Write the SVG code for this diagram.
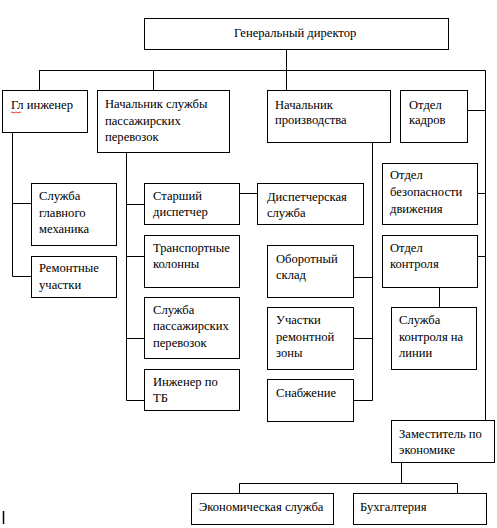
<svg xmlns="http://www.w3.org/2000/svg" width="497" height="528" viewBox="0 0 497 528">
<style>
.b{fill:#fff;stroke:#000;stroke-width:1}
.t{font-family:"Liberation Serif","Times New Roman",serif;font-size:12.6px;fill:#000}
.c{fill:none;stroke:#000;stroke-width:1}
</style>
<rect width="497" height="528" fill="#fff"/>
<g id="connectors">
<path class="c" d="M286.5,49 V90 M39.5,70.5 H485.5 V420 M39.5,70 V90 M153.5,70 V90"/>
<path class="c" d="M467,110.5 H485.5 M477,193.5 H485.5 M477,256.5 H485.5"/>
<path class="c" d="M12.5,132 V276.5 H31 M12.5,203.5 H31"/>
<path class="c" d="M126.5,152 V400.5 H144 M126.5,204.5 H144 M126.5,256.5 H144 M126.5,338.5 H144"/>
<path class="c" d="M239,193.5 H257"/>
<path class="c" d="M372.5,142 V400.5 H353 M372.5,277.5 H353 M372.5,338.5 H353"/>
<path class="c" d="M439.5,287 V307"/>
<path class="c" d="M401.5,462 V483.5 M239.5,493 V483.5 H457.5 V493"/>
</g>
<g id="n-gendir"><rect class="b" x="144.5" y="18.5" width="304" height="31"/><text class="t" x="234" y="37">Генеральный директор</text></g>
<g id="n-glinzh"><rect class="b" x="2.5" y="90.5" width="85" height="42"/><text class="t" x="11" y="109">Гл инженер</text><path d="M11,112.5 q1,-1 2,0 t2,0 t2,0 t2,0 t2,0" fill="none" stroke="#e00" stroke-width="0.8"/></g>
<g id="n-nachsl"><rect class="b" x="97.5" y="90.5" width="132" height="62"/><text class="t" x="105"><tspan x="105" y="108">Начальник службы</tspan><tspan x="105" y="124.5">пассажирских</tspan><tspan x="105" y="141">перевозок</tspan></text></g>
<g id="n-nachpr"><rect class="b" x="267.5" y="90.5" width="123" height="52"/><text class="t"><tspan x="275" y="109">Начальник</tspan><tspan x="275" y="124">производства</tspan></text></g>
<g id="n-kadry"><rect class="b" x="400.5" y="90.5" width="67" height="52"/><text class="t"><tspan x="409" y="109">Отдел</tspan><tspan x="409" y="124">кадров</tspan></text></g>
<g id="n-mech"><rect class="b" x="31.5" y="183.5" width="85" height="62"/><text class="t"><tspan x="39" y="200">Служба</tspan><tspan x="39" y="216.5">главного</tspan><tspan x="39" y="233">механика</tspan></text></g>
<g id="n-remuch"><rect class="b" x="31.5" y="256.5" width="85" height="41"/><text class="t"><tspan x="39" y="272">Ремонтные</tspan><tspan x="39" y="289">участки</tspan></text></g>
<g id="n-stdisp"><rect class="b" x="144.5" y="183.5" width="95" height="41"/><text class="t"><tspan x="153" y="200">Старший</tspan><tspan x="153" y="216">диспетчер</tspan></text></g>
<g id="n-trkol"><rect class="b" x="144.5" y="235.5" width="95" height="52"/><text class="t"><tspan x="153" y="252">Транспортные</tspan><tspan x="153" y="268">колонны</tspan></text></g>
<g id="n-slpass"><rect class="b" x="144.5" y="297.5" width="95" height="61"/><text class="t"><tspan x="153" y="314">Служба</tspan><tspan x="153" y="330">пассажирских</tspan><tspan x="153" y="347">перевозок</tspan></text></g>
<g id="n-inzhtb"><rect class="b" x="144.5" y="369.5" width="95" height="41"/><text class="t"><tspan x="153" y="386">Инженер по</tspan><tspan x="153" y="402">ТБ</tspan></text></g>
<g id="n-dispsl"><rect class="b" x="257.5" y="183.5" width="106" height="41"/><text class="t"><tspan x="267" y="201">Диспетчерская</tspan><tspan x="267" y="217">служба</tspan></text></g>
<g id="n-oborot"><rect class="b" x="267.5" y="245.5" width="86" height="52"/><text class="t"><tspan x="276" y="263">Оборотный</tspan><tspan x="276" y="279">склад</tspan></text></g>
<g id="n-remzon"><rect class="b" x="267.5" y="307.5" width="86" height="62"/><text class="t"><tspan x="276" y="324">Участки</tspan><tspan x="276" y="341">ремонтной</tspan><tspan x="276" y="357">зоны</tspan></text></g>
<g id="n-snab"><rect class="b" x="267.5" y="379.5" width="86" height="42"/><text class="t" x="276" y="397">Снабжение</text></g>
<g id="n-bezop"><rect class="b" x="382.5" y="163.5" width="95" height="61"/><text class="t"><tspan x="390" y="179">Отдел</tspan><tspan x="390" y="196">безопасности</tspan><tspan x="390" y="213">движения</tspan></text></g>
<g id="n-kontr"><rect class="b" x="382.5" y="235.5" width="95" height="52"/><text class="t"><tspan x="390" y="252">Отдел</tspan><tspan x="390" y="268">контроля</tspan></text></g>
<g id="n-kontrlin"><rect class="b" x="391.5" y="307.5" width="85" height="62"/><text class="t"><tspan x="399" y="324">Служба</tspan><tspan x="399" y="341">контроля на</tspan><tspan x="399" y="357">линии</tspan></text></g>
<g id="n-zam"><rect class="b" x="391.5" y="420.5" width="103" height="42"/><text class="t"><tspan x="399" y="438">Заместитель по</tspan><tspan x="399" y="454">экономике</tspan></text></g>
<g id="n-ekon"><rect class="b" x="191.5" y="493.5" width="142" height="31"/><text class="t" x="199" y="511">Экономическая служба</text></g>
<g id="n-buh"><rect class="b" x="353.5" y="493.5" width="133" height="31"/><text class="t" x="360" y="511">Бухгалтерия</text></g>
<line x1="3.5" y1="511" x2="3.5" y2="524" stroke="#000" stroke-width="1.5"/>
</svg>
